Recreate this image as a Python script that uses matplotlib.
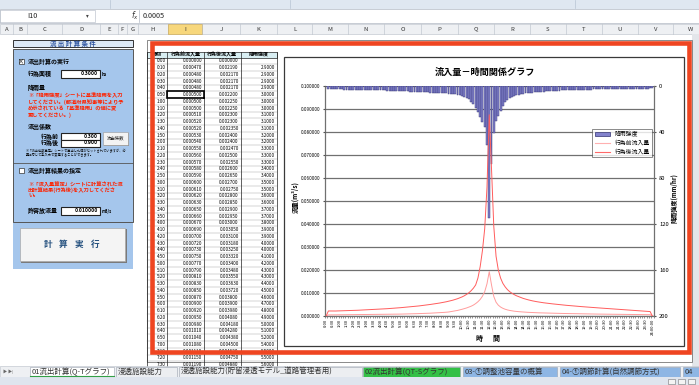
import numpy as np
import matplotlib.pyplot as plt
from matplotlib.patches import Rectangle, Patch
from matplotlib.lines import Line2D

plt.rcParams['font.family'] = ['Noto Sans CJK JP', 'DejaVu Sans']

# 10分間隔 0:00 - 24:00
time_labels = ['%d:%02d' % divmod(m, 60) for m in range(0, 24 * 60 + 1, 10)]

# 降雨強度 (mm/hr)
rain = [0.0,
        2.9, 2.9, 2.9, 2.9, 3.0, 3.0,
        3.0, 3.1, 3.1, 3.1, 3.2, 3.2,
        3.3, 3.3, 3.3, 3.4, 3.4, 3.5,
        3.5, 3.6, 3.6, 3.7, 3.7, 3.8,
        3.9, 3.9, 4.0, 4.0, 4.1, 4.2,
        4.3, 4.3, 4.4, 4.5, 4.6, 4.7,
        4.8, 4.9, 5.0, 5.1, 5.2, 5.4,
        5.5, 5.5, 5.6, 5.7, 5.7, 5.8,
        5.9, 6.0, 6.1, 6.2, 6.4, 6.6,
        6.8, 7.0, 7.3, 7.6, 8.0, 8.5,
        9.2, 10.2, 11.5, 13.5, 16.0, 19.0,
        23.0, 27.0, 31.0, 35.5, 51.0, 115.0,
        68.0, 41.0, 30.0, 26.0, 22.0, 17.5,
        14.0, 12.0, 10.5, 9.4, 8.7, 8.1,
        7.6, 7.2, 6.8, 6.5, 6.2, 5.9,
        5.7, 5.5, 5.3, 5.1, 4.9, 4.8,
        4.6, 4.5, 4.4, 4.3, 4.2, 4.1,
        4.0, 3.9, 3.8, 3.7, 3.7, 3.6,
        3.5, 3.5, 3.4, 3.3, 3.3, 3.2,
        3.2, 3.1, 3.1, 3.0, 3.0, 2.9,
        2.9, 2.8, 2.8, 2.8, 2.7, 2.7,
        2.6, 2.6, 2.6, 2.5, 2.5, 2.5,
        2.4, 2.4, 2.4, 2.3, 2.3, 2.3,
        2.3, 2.2, 2.2, 2.2, 2.1, 2.1]

# 行為前流入量 (m3/s)
q_pre = [0.0,
         0.00047, 0.00048, 0.00048, 0.00048, 0.00050, 0.00050,
         0.00050, 0.00051, 0.00052, 0.00052, 0.00053, 0.00054,
         0.00055, 0.00056, 0.00057, 0.00058, 0.00059, 0.00060,
         0.00061, 0.00062, 0.00063, 0.00065, 0.00066, 0.00067,
         0.00069, 0.00070, 0.00072, 0.00073, 0.00075, 0.00077,
         0.00079, 0.00081, 0.00083, 0.00085, 0.00087, 0.00090,
         0.00092, 0.00095, 0.00098, 0.00101, 0.00104, 0.00108,
         0.00111, 0.00115, 0.00119, 0.00123, 0.00128, 0.00133,
         0.00138, 0.00144, 0.00150, 0.00157, 0.00165, 0.00173,
         0.00190, 0.00205, 0.00222, 0.00242, 0.00265, 0.00292,
         0.00320, 0.00350, 0.00385, 0.00425, 0.00475, 0.00540,
         0.00620, 0.00720, 0.00860, 0.01060, 0.01400, 0.01930,
         0.01350, 0.00850, 0.00600, 0.00470, 0.00390, 0.00335,
         0.00295, 0.00265, 0.00242, 0.00224, 0.00210, 0.00198,
         0.00188, 0.00180, 0.00172, 0.00166, 0.00160, 0.00155,
         0.00150, 0.00146, 0.00142, 0.00138, 0.00135, 0.00132,
         0.00129, 0.00126, 0.00123, 0.00120, 0.00118, 0.00116,
         0.00113, 0.00111, 0.00109, 0.00107, 0.00105, 0.00103,
         0.00101, 0.00099, 0.00097, 0.00096, 0.00094, 0.00092,
         0.00091, 0.00089, 0.00088, 0.00086, 0.00085, 0.00083,
         0.00082, 0.00080, 0.00079, 0.00078, 0.00076, 0.00075,
         0.00074, 0.00073, 0.00071, 0.00070, 0.00069, 0.00068,
         0.00067, 0.00066, 0.00065, 0.00064, 0.00063, 0.00062,
         0.00061, 0.00060, 0.00059, 0.00058, 0.00057, 0.0]

# 行為後流入量 (m3/s)
q_post = [0.0,
          0.00219, 0.00217, 0.00217, 0.00217, 0.00220, 0.00225,
          0.00225, 0.00230, 0.00230, 0.00235, 0.00240, 0.00240,
          0.00247, 0.00250, 0.00255, 0.00260, 0.00265, 0.00270,
          0.00275, 0.00280, 0.00285, 0.00290, 0.00295, 0.00300,
          0.00305, 0.00310, 0.00318, 0.00325, 0.00332, 0.00340,
          0.00348, 0.00355, 0.00363, 0.00372, 0.00380, 0.00390,
          0.00398, 0.00408, 0.00418, 0.00428, 0.00438, 0.00450,
          0.00462, 0.00475, 0.00488, 0.00502, 0.00516, 0.00530,
          0.00546, 0.00562, 0.00580, 0.00598, 0.00618, 0.00640,
          0.00665, 0.00690, 0.00720, 0.00752, 0.00790, 0.00830,
          0.00880, 0.00940, 0.01010, 0.01100, 0.01210, 0.01350,
          0.01650, 0.02150, 0.02850, 0.03800, 0.05600, 0.08750,
          0.06400, 0.03900, 0.02600, 0.02000, 0.01650, 0.01420,
          0.01270, 0.01150, 0.01060, 0.00990, 0.00930, 0.00880,
          0.00840, 0.00800, 0.00765, 0.00735, 0.00708, 0.00683,
          0.00660, 0.00640, 0.00622, 0.00605, 0.00590, 0.00575,
          0.00562, 0.00550, 0.00538, 0.00527, 0.00516, 0.00505,
          0.00495, 0.00485, 0.00475, 0.00465, 0.00456, 0.00447,
          0.00438, 0.00430, 0.00422, 0.00414, 0.00406, 0.00398,
          0.00390, 0.00382, 0.00375, 0.00368, 0.00361, 0.00354,
          0.00347, 0.00340, 0.00333, 0.00326, 0.00319, 0.00312,
          0.00305, 0.00298, 0.00291, 0.00284, 0.00277, 0.00270,
          0.00263, 0.00256, 0.00249, 0.00242, 0.00235, 0.00228,
          0.00221, 0.00214, 0.00207, 0.00200, 0.00193, 0.0]

col_letters = list('ABCDEFGHIJKLMNOPQRSTUVW')
col_edges = [0, 13, 27, 62, 100, 118, 127, 138, 168, 202, 240, 277, 312,
             348, 384, 421, 458, 494, 530, 566, 602, 638, 673, 708]

sheet_tabs = ['01流出計算(Q-Tグラフ)', '浸透施設能力',
              '浸透施設能力(貯留浸透モデル_道路管理者用)',
              '02流出計算(QT-Sグラフ)', '03-①調整池容量の概算',
              '04-①調節計算(自然調節方式)', '04']

W, H = 699, 385
fig = plt.figure(figsize=(W / 100, H / 100), dpi=100)
bg = fig.add_axes([0, 0, 1, 1])
bg.set_xlim(0, W)
bg.set_ylim(H, 0)
bg.axis('off')


def box(x0, y0, x1, y1, fc='none', ec='none', lw=0.6, z=1):
    bg.add_patch(Rectangle((x0, y0), x1 - x0, y1 - y0, facecolor=fc,
                           edgecolor=ec, linewidth=lw, zorder=z))


def txt(x, y, s, size=4, color='black', ha='left', weight='normal', z=3, **kw):
    return bg.text(x, y, s, fontsize=size, color=color, ha=ha, va='center',
                   fontweight=weight, zorder=z, **kw)


# ---- excel top area ----
box(0, 0, W, 9, fc='#dfe7f1')
for xx in [110, 290, 575]:
    bg.plot([xx, xx], [0, 8], color='#b8c4d4', lw=0.5)
box(0, 9, W, 23, fc='white', ec='#b0b8c4', lw=0.5)
box(0, 10, 95, 22, fc='white', ec='#b0b8c4', lw=0.4)
txt(27, 16, 'I10', 5.2, '#222')
txt(86, 16, '▾', 4, '#444')
txt(131, 16, '$f_x$', 5.5, '#333')
bg.plot([139, 139], [10, 22], color='#b0b8c4', lw=0.5)
txt(143, 16, '0.0005', 5.2, '#222')

# column headers
box(0, 24, W, 34, fc='#eef0f3', ec='#b8bec8', lw=0.4)
for i, letter in enumerate(col_letters):
    x0, x1 = col_edges[i], col_edges[i + 1]
    if letter == 'I':
        box(x0, 24, x1, 34, fc='#f7d77c', ec='#c9a34a', lw=0.4, z=2)
    bg.plot([x1, x1], [24, 34], color='#b8bec8', lw=0.4)
    txt((x0 + x1) / 2, 29.2, letter, 4.3, '#333', ha='center')

# right window strip
box(692, 34, W, 367, fc='#e3e6ea')

# ---- left panel ----
box(13, 40, 133, 47, fc='#dde9f6', ec='#333', lw=0.7)
txt(73, 43.6, '流 出 計 算 条 件', 4.6, '#2f55a0', ha='center', weight='bold')
box(13, 49, 133, 269, fc='#a5c6ec')
box(13, 49, 133, 222, ec='#555', lw=0.7, z=2)

box(18.5, 58.5, 23.5, 63.5, fc='white', ec='#333', lw=0.5)
txt(21, 61, '×', 4.5, '#000', ha='center')
txt(28, 61.5, '流出計算の実行', 4.3, weight='bold')
txt(28, 73.5, '行為面積', 4.3, weight='bold')
box(60.5, 69.5, 100, 77.5, fc='white', ec='#222', lw=0.8)
txt(98, 73.5, '0.3000', 3.7, ha='right', weight='bold')
txt(102, 74, 'ha', 3, weight='bold')
txt(28, 87.5, '降雨量', 4.3, weight='bold')
red_note1 = ['※「降雨強度」シートに基準降雨を入力',
             'してください。(都道府県知事等により予',
             'め示されている「基準降雨」の値に変',
             '更してください。)']
for k, line in enumerate(red_note1):
    txt(28, 96 + k * 6.3, line, 3.8, '#ff2200', weight='bold')
txt(28, 127, '流出係数', 4.3, weight='bold')
txt(41, 136, '行為前', 4.3, weight='bold')
box(60.5, 132.5, 100, 139.5, fc='white', ec='#222', lw=0.8)
txt(98, 136, '0.300', 3.7, ha='right', weight='bold')
txt(41, 143, '行為後', 4.3, weight='bold')
box(60.5, 139.5, 100, 146.5, fc='white', ec='#222', lw=0.8)
txt(98, 143, '0.900', 3.7, ha='right', weight='bold')
box(104, 132.5, 129, 146, fc='#777')
box(103, 131.5, 128, 145, fc='#f3f3f3', ec='#999', lw=0.4)
txt(115.5, 138.3, '流出係数', 3.2, '#222', ha='center')
txt(26, 151, '※「流出係数算定」シートで算出した値がセットされていますが、必', 2.3)
txt(26, 155.5, '要に応じて手入力で変更することができます。', 2.3)
bg.plot([13, 133], [162.5, 162.5], color='#555', lw=0.6)

box(18.5, 168, 23.5, 173, fc='white', ec='#333', lw=0.5)
txt(28, 170.5, '流出計算結果の指定', 4.3, weight='bold')
red_note2 = ['※「流入量算定」シートに計算された流',
             '出計算結果(行為後)を入力してくださ',
             'い。']
for k, line in enumerate(red_note2):
    txt(28, 185 + k * 5.3, line, 3.8, '#ff2200', weight='bold')
txt(28, 211, '許容放流量', 4.3, weight='bold')
box(60.5, 207, 100, 215, fc='white', ec='#222', lw=0.8)
txt(98, 211, '0.010000', 3.7, ha='right', weight='bold')
txt(102, 211.5, 'm3/s', 3, weight='bold')

box(21, 229, 126.5, 262.5, fc='#7a7a7a')
box(19.5, 227.5, 125, 261, fc='#f4f4f4', ec='#aaa', lw=0.5)
for xc, ch in zip([48, 63, 79, 95], '計算実行'):
    txt(xc, 244.5, ch, 6.2, '#24507e', ha='center', weight='bold')

# ---- table ----
tx = [146.7, 167.3, 204, 240.7, 277.3]
row_h = 6.75
y0 = 57.5
box(146.5, 39.5, 692, 362, ec='#777', lw=0.6)
box(tx[0], 51.5, tx[-1], y0, fc='#d8eef2', ec='#222', lw=0.5)
for j, head in enumerate(['時刻', '行為前流入量', '行為後流入量', '降雨強度']):
    txt((tx[j] + tx[j + 1]) / 2, 54.5, head, 3.6, ha='center', weight='bold')
n_rows = 46
for k in range(n_rows):
    yc = y0 + row_h * k + row_h / 2
    bg.plot([tx[0], tx[-1]], [y0 + row_h * (k + 1)] * 2, color='#9a9a9a', lw=0.3)
    txt(tx[1] - 1.5, yc, time_labels[k], 3.3, ha='right')
    txt(tx[2] - 2, yc, '%.6f' % q_pre[k], 3.3, ha='right')
    txt(tx[3] - 2, yc, '%.6f' % q_post[k], 3.3, ha='right')
    if k > 0:
        txt(tx[4] - 2, yc, '%.4f' % rain[k], 3.3, ha='right')
for xx in tx:
    bg.plot([xx, xx], [51.5, y0 + row_h * n_rows], color='#222', lw=0.5)
sel = 5
box(tx[1], y0 + row_h * sel, tx[2], y0 + row_h * (sel + 1), ec='black', lw=1.2, z=4)
box(tx[2] - 1, y0 + row_h * (sel + 1) - 1, tx[2] + 1, y0 + row_h * (sel + 1) + 1, fc='black', z=4)

# ---- chart frame ----
box(284, 57, 684, 346, fc='white', ec='#3a3a3a', lw=0.9, z=5)
txt(485, 72, '流入量－時間関係グラフ', 6.6, ha='center', weight='bold', z=6)
txt(295, 197, '流量(m³/s)', 4.6, ha='center', weight='bold', z=6, rotation=90)
txt(674, 198, '降雨強度(mm/hr)', 4.4, ha='center', weight='bold', z=6, rotation=90)
txt(479.5, 338, '時', 5, ha='center', weight='bold', z=6)
txt(496, 338, '間', 5, ha='center', weight='bold', z=6)

# red frame
box(151.5, 43, 689, 351.5, ec='#ef4521', lw=3.3, z=7)

# ---- sheet tabs / status bar ----
box(0, 366, W, 377, fc='#eef0f3', ec='#b8bec8', lw=0.4, z=8)
txt(3, 371.5, '▶ ▶|', 3, '#666', z=9)
tab_x = [(30, 114), (116, 177), (179, 362), (363, 460), (463, 557), (560, 680), (683, 705)]
tab_fc = ['white', '#eceef1', '#eceef1', '#33c046', '#8eb6e4', '#8eb6e4', '#8eb6e4']
for (x0, x1), fc, label in zip(tab_x, tab_fc, sheet_tabs):
    box(x0, 366.5, x1, 376.5, fc=fc, ec='#9aa2ae', lw=0.4, z=8)
    t = txt(x0 + 2, 371.6, label, 5.4, '#333', z=9)
    t.set_clip_path(Rectangle((x0, 366), x1 - x0, 11, transform=bg.transData))
bg.plot([30, 114], [376, 376], color='#33a046', lw=0.8, zorder=9)
box(0, 377, W, H, fc='#dfe5ee', z=8)
for xx in [668, 678, 688]:
    box(xx, 378.5, xx + 7, 384, fc='#f4f4f4', ec='#777', lw=0.4, z=9)

# ---- chart ----
pl, pr, pt, pb = 325, 653.5, 86, 316
ax = fig.add_axes([pl / W, 1 - pb / H, (pr - pl) / W, (pb - pt) / H])
ax.set_zorder(10)
x = np.arange(len(time_labels))
ax.bar(x, rain, width=0.85, color='#8282cc', edgecolor='#303070', linewidth=0.3, zorder=2)
ax.set_xlim(-0.5, len(time_labels) - 0.5)
ax.set_ylim(200, 0)
ax.set_yticks(range(0, 201, 40))
ax.set_yticks(range(20, 200, 40), minor=True)
ax.grid(axis='y', which='both', color='#707070', lw=0.9)
ax.set_axisbelow(True)
ax.set_xticks(x[::3])
xt = [time_labels[i] for i in x[::3]]
xt[-1] = '24:00:00'
ax.set_xticklabels(xt, rotation=90, fontsize=3.0)
ax.set_xticks(np.arange(-0.5, len(time_labels), 1), minor=True)
ax.tick_params(axis='x', which='major', length=0, pad=2)
ax.tick_params(axis='x', which='minor', length=1.3, width=0.4, color='#444')
for s in ['left', 'right', 'bottom']:
    ax.spines[s].set_color('#707070')
    ax.spines[s].set_linewidth(0.9)
ax.spines['top'].set_visible(False)

ax2 = ax.twinx()
ax2.plot(x, q_pre, color='#ff9c9c', lw=0.7)
ax2.plot(x, q_post, color='#ff5c5c', lw=0.7)
ax2.set_ylim(0, 0.1)
ax2.yaxis.tick_left()
yt = np.arange(0, 0.1001, 0.01)
ax2.set_yticks(yt)
ax2.set_yticklabels(['%.6f' % v for v in yt])
ax2.tick_params(axis='y', labelsize=3.3, length=1.5, pad=2, color='#555')
for s in ax2.spines.values():
    s.set_visible(False)

# twinx moves the host ticks to the left, so put the rain axis back on the right
ax.yaxis.tick_right()
ax.tick_params(axis='y', which='major', labelsize=4.2, length=1.5, pad=2.5, color='#555')
ax.tick_params(axis='y', which='minor', length=0, labelright=False, labelleft=False)

handles = [Patch(facecolor='#8282cc', edgecolor='#303070', linewidth=0.5, label='降雨強度'),
           Line2D([], [], color='#ffb0b0', lw=0.8, label='行為前流入量'),
           Line2D([], [], color='#ff6a6a', lw=0.8, label='行為後流入量')]
leg = ax2.legend(handles=handles, loc='upper left', bbox_to_anchor=(0.814, 0.813),
                 fontsize=4.2, frameon=True, fancybox=False, borderpad=0.4,
                 handlelength=2.6, handleheight=0.6, labelspacing=0.5, borderaxespad=0)
leg.get_frame().set_edgecolor('#333')
leg.get_frame().set_linewidth(0.5)

fig.savefig('out.png', dpi=100)
